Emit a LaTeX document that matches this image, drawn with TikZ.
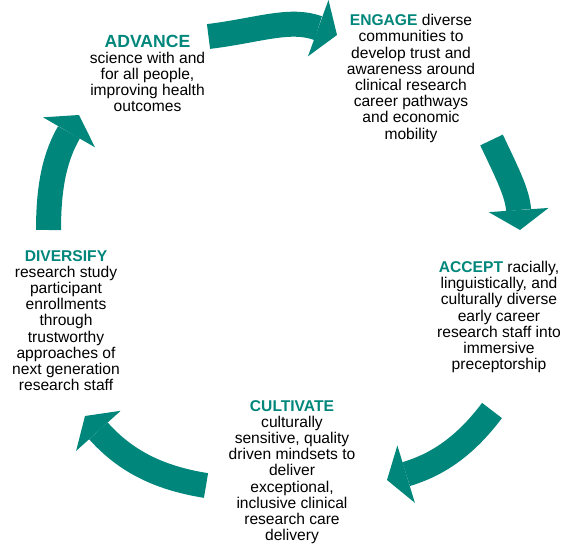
\documentclass[tikz,border=0pt]{standalone}
\usepackage{fontspec}
\setmainfont{Liberation Sans}
\usetikzlibrary{arrows.meta,positioning}
\definecolor{cyclegreen}{RGB}{0,134,122}
\newcommand{\phase}[1]{\textbf{\textcolor{cyclegreen}{#1}}}
\tikzset{
  stage/.style={align=center, inner sep=0pt, anchor=base, font=\fontsize{15.6}{16.2}\selectfont},
  cyclearrow/.style={draw, color=cyclegreen, line width=25pt, -{Triangle[width=60pt,length=20pt,line width=0pt]}}
}

\begin{document}
\begin{tikzpicture}[x=1pt,y=1pt]
   \useasboundingbox (0,0) rectangle (565,-545);
   % the base of each stage is its last line
   \node[stage] (advance) at (147.5,-111.9) {{\fontsize{17.6}{16.2}\selectfont\phase{ADVANCE}}\\science with and\\for all people,\\improving health\\outcomes};
   \node[stage] (engage) at (411,-139.2) {\phase{ENGAGE} diverse\\communities to\\develop trust and\\awareness around\\clinical research\\career pathways\\and economic\\mobility};
   \node[stage] (accept) at (499,-369.6) {\phase{ACCEPT} racially,\\linguistically, and\\culturally diverse\\early career\\research staff into\\immersive\\preceptorship};
   \node[stage] (cultivate) at (292,-540.6) {\phase{CULTIVATE}\\culturally\\sensitive, quality\\driven mindsets to\\deliver\\exceptional,\\inclusive clinical\\research care\\delivery};
   \node[stage] (diversify) at (66,-390.6) {\phase{DIVERSIFY}\\research study\\participant\\enrollments\\through\\trustworthy\\approaches of\\next generation\\research staff};
   \coordinate (t_1) at (208.5,-36.5);  \coordinate (h_1) at (337,-35);
   \coordinate (t_2) at (491.5,-140);   \coordinate (h_2) at (520,-230);
   \coordinate (t_3) at (492,-410.5);   \coordinate (h_3) at (387,-480);
   \coordinate (t_4) at (206,-485.5);   \coordinate (h_4) at (85,-416);
   \coordinate (t_5) at (48.5,-230);    \coordinate (h_5) at (79,-115);
    \path
    (t_1) edge[cyclearrow,out=7,in=160] (h_1)
    (t_2) edge[cyclearrow,out=-64.5,in=94] (h_2)
    (t_3) edge[cyclearrow,out=233,in=17] (h_3)
    (t_4) edge[cyclearrow,out=171,in=-48] (h_4)
    (t_5) edge[cyclearrow,out=90,in=240] (h_5);
\end{tikzpicture}
\end{document}
